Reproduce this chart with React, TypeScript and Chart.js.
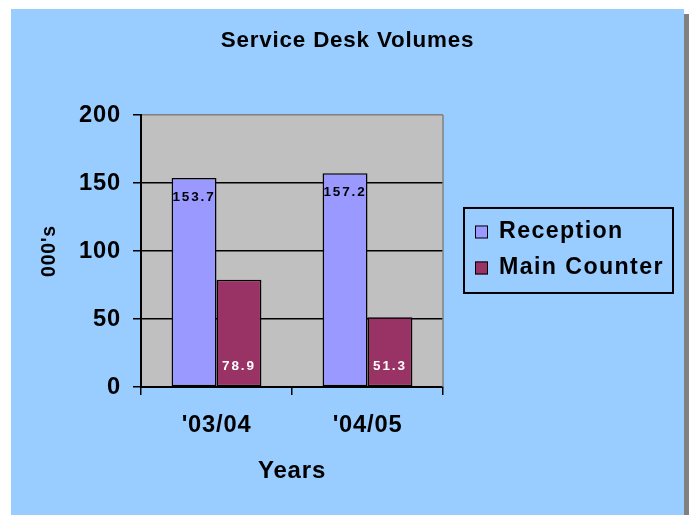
import React, { useEffect, useRef } from "react";
import { Chart, registerables } from "chart.js";

Chart.register(...registerables);

const categories = ["'03/04", "'04/05"];
const receptionValues = [153.7, 157.2];
const mainCounterValues = [78.9, 51.3];
const seriesNames = ["Reception", "Main Counter"];
const seriesColors = ["#9999FF", "#993366"];
const yMin = 0;
const yMax = 200;
const yStep = 50;

const FONT = '"Liberation Sans", Arial, Helvetica, sans-serif';

const decorPlugin = {
  id: "decor",
  beforeDraw(chart: any) {
    const { ctx, chartArea: a } = chart;
    ctx.save();
    ctx.fillStyle = "#C0C0C0";
    ctx.fillRect(a.left, a.top, a.right - a.left, a.bottom - a.top);
    ctx.restore();
    ctx.letterSpacing = "0.8px";
  },
  beforeDatasetsDraw(chart: any) {
    const { ctx, chartArea: a } = chart;
    ctx.save();
    ctx.strokeStyle = "#808080";
    ctx.lineWidth = 1.5;
    ctx.beginPath();
    ctx.moveTo(a.right, a.top);
    ctx.lineTo(a.right, a.bottom);
    ctx.stroke();
    ctx.restore();
  },
  afterDatasetsDraw(chart: any) {
    const { ctx } = chart;
    ctx.save();
    ctx.font = `bold 13.5px ${FONT}`;
    ctx.letterSpacing = "1.9px";
    ctx.textAlign = "center";
    ctx.textBaseline = "middle";
    chart.data.datasets.forEach((ds: any, di: number) => {
      const meta = chart.getDatasetMeta(di);
      meta.data.forEach((bar: any, i: number) => {
        const v = ds.data[i];
        const p = bar.getProps(["x", "y", "base"], true);
        if (di === 0) {
          ctx.fillStyle = "#000";
          ctx.fillText(v.toFixed(1), p.x, p.y + 19);
        } else {
          ctx.fillStyle = "#FFF";
          ctx.fillText(v.toFixed(1), p.x, p.base - 20);
        }
      });
    });
    ctx.restore();
  },
  afterDraw(chart: any) {
    const { ctx, chartArea: a } = chart;
    const left = a.right + 21;
    const right = left + 209;
    const top = a.top + 93;
    const bottom = top + 85;
    ctx.save();
    ctx.strokeStyle = "#000";
    ctx.lineWidth = 2;
    ctx.strokeRect(left, top, right - left, bottom - top);
    ctx.font = `bold 23.2px ${FONT}`;
    ctx.letterSpacing = "1.4px";
    ctx.textAlign = "left";
    ctx.textBaseline = "middle";
    const rowYs = [top + 24, top + 60];
    chart.data.datasets.forEach((ds: any, di: number) => {
      const y = rowYs[di];
      ctx.fillStyle = ds.backgroundColor;
      ctx.fillRect(left + 11, y - 6.5, 13, 13);
      ctx.lineWidth = 1;
      ctx.strokeStyle = "#000";
      ctx.strokeRect(left + 11.5, y - 6, 12, 12);
      ctx.fillStyle = "#000";
      ctx.fillText(ds.label, left + 35, y);
    });
    ctx.restore();
  },
};

export default function App() {
  const ref = useRef<HTMLCanvasElement | null>(null);

  useEffect(() => {
    if (!ref.current) return;
    const chart = new Chart(ref.current, {
      type: "bar",
      data: {
        labels: categories,
        datasets: [
          {
            label: seriesNames[0],
            data: receptionValues,
            backgroundColor: seriesColors[0],
            borderColor: "#000",
            borderWidth: 1.5,
            borderSkipped: false,
            categoryPercentage: 0.595,
            barPercentage: 1.0,
          },
          {
            label: seriesNames[1],
            data: mainCounterValues,
            backgroundColor: seriesColors[1],
            borderColor: "#000",
            borderWidth: 1.5,
            borderSkipped: false,
            categoryPercentage: 0.595,
            barPercentage: 1.0,
          },
        ],
      },
      options: {
        responsive: false,
        animation: false,
        events: [],
        layout: { padding: 0 },
        plugins: {
          legend: { display: false },
          tooltip: { enabled: false },
          title: {
            display: true,
            text: "Service Desk Volumes",
            color: "#000",
            font: { family: FONT, size: 22.4, weight: "bold", lineHeight: 1.2 },
            padding: { top: 18.5, bottom: 60.6 },
          },
        },
        scales: {
          x: {
            grid: {
              display: true,
              drawOnChartArea: false,
              drawTicks: true,
              tickLength: 8,
              color: "#000",
              lineWidth: 1.5,
            },
            border: { display: true, color: "#000", width: 2 },
            ticks: {
              color: "#000",
              font: { family: FONT, size: 23.7, weight: "bold", lineHeight: 1.2 },
              padding: 16,
            },
            title: {
              display: true,
              text: "Years",
              color: "#000",
              font: { family: FONT, size: 24, weight: "bold", lineHeight: 1.2 },
              padding: { top: 0, bottom: 29.6 },
            },
            afterFit: (s: any) => {
              s.height = 128;
            },
          },
          y: {
            min: yMin,
            max: yMax,
            grid: {
              color: (c: any) => (c.tick && c.tick.value === yMax ? "#808080" : "#000"),
              tickColor: "#000",
              lineWidth: 1.5,
              tickLength: 8,
            },
            border: { display: true, color: "#000", width: 2 },
            ticks: {
              stepSize: yStep,
              color: "#000",
              font: { family: FONT, size: 23.7, weight: "bold", lineHeight: 1.2 },
              padding: 12,
            },
            title: {
              display: true,
              text: "000's",
              color: "#000",
              font: { family: FONT, size: 19.5, weight: "bold", lineHeight: 1.2 },
              padding: { top: 27, bottom: 0 },
            },
            afterFit: (s: any) => {
              s.width = 130;
            },
          },
          legendSpace: {
            type: "linear",
            position: "right",
            display: true,
            grid: { display: false, drawTicks: false },
            border: { display: false },
            ticks: { display: false },
            title: { display: false },
            afterFit: (s: any) => {
              s.width = 241;
            },
          },
        },
      } as any,
      plugins: [decorPlugin],
    });
    return () => chart.destroy();
  }, []);

  return (
    <>
      <div
        style={{
          position: "absolute",
          left: 11,
          top: 9,
          width: 673,
          height: 506,
          background: "#99CCFF",
        }}
      >
        <canvas ref={ref} width={673} height={506} style={{ display: "block" }} />
      </div>
      <div
        style={{
          position: "absolute",
          left: 684,
          top: 14,
          width: 5,
          height: 501,
          background: "#808080",
        }}
      />
    </>
  );
}
